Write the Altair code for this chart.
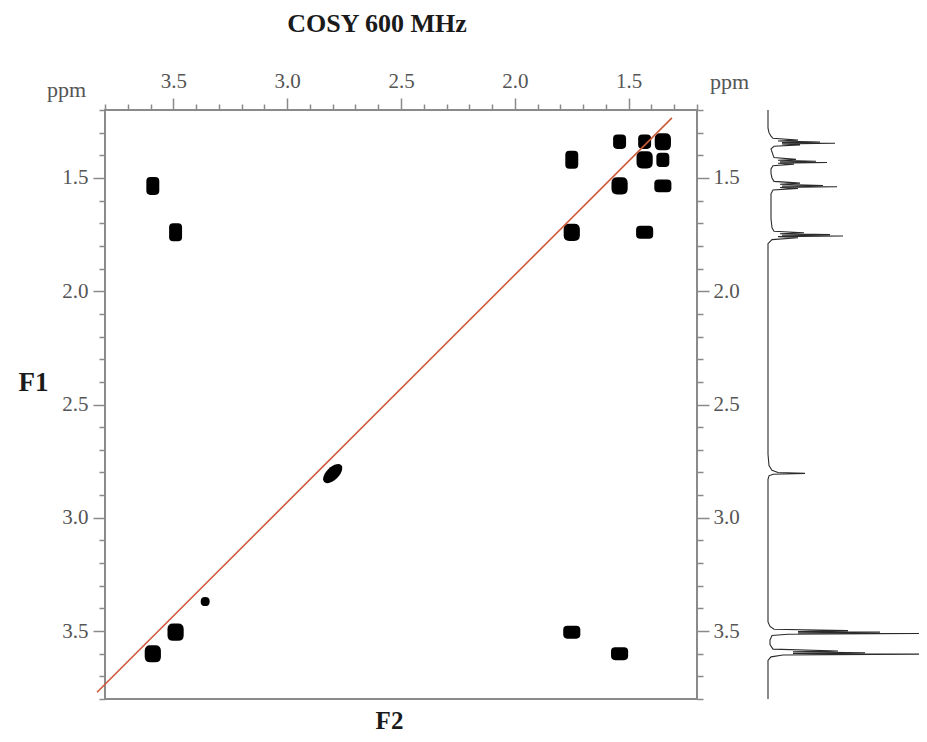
import math
import altair as alt
import pandas as pd

# ---------------- text ----------------
title_text = "COSY 600 MHz"
unit_text = "ppm"
f1_text = "F1"
f2_text = "F2"

# ---------------- axis ticks (ppm) ----------------
tick_values = [3.8, 3.7, 3.6, 3.5, 3.4, 3.3, 3.2, 3.1, 3.0, 2.9, 2.8, 2.7, 2.6,
               2.5, 2.4, 2.3, 2.2, 2.1, 2.0, 1.9, 1.8, 1.7, 1.6, 1.5, 1.4, 1.3, 1.2]
ppm_domain = [1.2, 3.8]

# ---------------- cross peaks (F2, F1) ----------------
peak_f2 = [1.54, 1.43, 1.35, 1.75, 1.43, 1.35, 1.54, 1.35, 1.75, 1.43,
           3.59, 3.49, 3.59, 3.49, 3.36, 2.80, 1.75, 1.54]
peak_f1 = [1.34, 1.34, 1.34, 1.42, 1.42, 1.42, 1.535, 1.535, 1.74, 1.74,
           1.535, 1.74, 3.60, 3.505, 3.37, 2.805, 3.505, 3.60]
peak_kind = ["small", "small", "round", "tall", "round", "small", "round", "wide", "round", "wide",
             "tall", "tall", "round", "round", "dot", "tilt", "wide", "wide"]

# ---------------- diagonal reference line ----------------
diag_f2 = [3.835, 1.31]
diag_f1 = [3.77, 1.235]

# ---------------- 1D projection spectrum (trace vertices) ----------------
spec_ppm = [1.20, 1.28, 1.30, 1.315, 1.325, 1.333, 1.337, 1.341, 1.344, 1.347, 1.350, 1.354,
            1.360, 1.372, 1.385, 1.398, 1.410, 1.418, 1.422, 1.426, 1.429, 1.432, 1.435,
            1.439, 1.446, 1.460, 1.480, 1.500, 1.515, 1.523, 1.528, 1.533, 1.536, 1.539,
            1.542, 1.546, 1.553, 1.570, 1.620, 1.680, 1.720, 1.735, 1.742, 1.746, 1.750,
            1.753, 1.756, 1.759, 1.764, 1.772, 1.790, 2.720, 2.770, 2.790, 2.800, 2.804,
            2.808, 2.815, 2.830, 3.460, 3.480, 3.492, 3.498, 3.502, 3.505, 3.508, 3.511,
            3.514, 3.520, 3.540, 3.560, 3.580, 3.588, 3.592, 3.596, 3.599, 3.602, 3.606,
            3.614, 3.630, 3.800]
spec_int = [0, 0, 1, 3, 5, 30, 10, 52, 14, 67, 14, 32,
            6, 3, 4, 5, 6, 28, 10, 48, 12, 59, 10,
            26, 5, 3, 3, 4, 6, 32, 12, 55, 14, 69,
            12, 30, 5, 3, 3, 3, 4, 6, 36, 12, 62,
            14, 75, 10, 30, 4, 0, 0, 1, 4, 10, 37,
            5, 1, 0, 0, 2, 6, 80, 30, 112, 30, 400,
            20, 4, 2, 2, 5, 70, 25, 97, 25, 400, 15,
            3, 0, 0]

# ---------------- styling helpers ----------------
SERIF = "Liberation Serif"
LABEL_GRAY = "#555555"
FRAME_GRAY = "#8a8a8a"


def rrect(hw, hh, r):
    return (f"M{-hw + r},{-hh}L{hw - r},{-hh}Q{hw},{-hh},{hw},{-hh + r}"
            f"L{hw},{hh - r}Q{hw},{hh},{hw - r},{hh}L{-hw + r},{hh}"
            f"Q{-hw},{hh},{-hw},{hh - r}L{-hw},{-hh + r}Q{-hw},{-hh},{-hw + r},{-hh}Z")


def tilted_ellipse(a, b, n=28):
    pts = []
    c = math.sqrt(0.5)
    for i in range(n):
        t = 2 * math.pi * i / n
        X, Y = a * math.cos(t), b * math.sin(t)
        pts.append((c * (X + Y), c * (-X + Y)))
    return "M" + "L".join(f"{x:.3f},{y:.3f}" for x, y in pts) + "Z"


shape_domain = ["tall", "round", "wide", "small", "dot", "tilt"]
shape_range = [rrect(0.72, 1.0, 0.45), rrect(0.9, 0.95, 0.62), rrect(0.95, 0.72, 0.45),
               rrect(0.72, 0.8, 0.45), rrect(0.5, 0.5, 0.49), tilted_ellipse(1.33, 0.7)]

major_test = "abs(datum.value*2 - round(datum.value*2)) < 0.01"
label_expr = f"{major_test} ? format(datum.value, '.1f') : ''"
tick_size = {"condition": {"test": major_test, "value": 12}, "value": 6}

common_axis = dict(values=tick_values, labelExpr=label_expr, tickSize=tick_size,
                   domain=False, grid=False, labelFont=SERIF, labelFontSize=21,
                   labelColor=LABEL_GRAY, tickColor=FRAME_GRAY, tickWidth=1.5,
                   labelOverlap=False, labelFlush=False, labelBound=False)

xs = alt.Scale(domain=ppm_domain, reverse=True, nice=False, zero=False)
ys = alt.Scale(domain=ppm_domain, reverse=True, nice=False, zero=False)

peaks = pd.DataFrame({"f2": peak_f2, "f1": peak_f1, "kind": peak_kind})
diag = pd.DataFrame({"f2": diag_f2, "f1": diag_f1})
spec = pd.DataFrame({"ppm": spec_ppm, "intensity": spec_int})
title_df = pd.DataFrame({"t": [title_text]})

peak_layer = alt.Chart(peaks).mark_point(filled=True, size=324, opacity=1, color="#000000",
                                         strokeWidth=0, clip=False).encode(
    x=alt.X("f2:Q", scale=xs,
            axis=alt.Axis(orient="top", labelPadding=7, title=unit_text, titleX=-39, titleY=-14,
                          titleAngle=0, titleAlign="center", titleBaseline="alphabetic",
                          titleFont=SERIF, titleFontSize=22, titleFontWeight="normal",
                          titleColor=LABEL_GRAY, **common_axis)),
    y=alt.Y("f1:Q", scale=ys,
            axis=alt.Axis(orient="left", labelPadding=5, title=f1_text, titleX=-72, titleY=280,
                          titleAngle=0, titleAlign="center", titleBaseline="alphabetic",
                          titleFont=SERIF, titleFontSize=27, titleFontWeight="bold",
                          titleColor="#1a1a1a", **common_axis)),
    shape=alt.Shape("kind:N", scale=alt.Scale(domain=shape_domain, range=shape_range), legend=None),
)

diag_layer = alt.Chart(diag).mark_line(color="#cf5a3a", strokeWidth=1.6, clip=False).encode(
    x=alt.X("f2:Q", scale=xs,
            axis=alt.Axis(orient="bottom", labels=False, ticks=False, domain=False, grid=False,
                          title=f2_text, titleX=284, titleY=29, titleAlign="center",
                          titleBaseline="alphabetic", titleFont=SERIF, titleFontSize=25,
                          titleFontWeight="bold", titleColor="#1a1a1a")),
    y=alt.Y("f1:Q", scale=ys,
            axis=alt.Axis(orient="right", labelPadding=4, title=unit_text, titleX=32, titleY=-22,
                          titleAngle=0, titleAlign="center", titleBaseline="alphabetic",
                          titleFont=SERIF, titleFontSize=22, titleFontWeight="normal",
                          titleColor=LABEL_GRAY, **common_axis)),
    order=alt.Order("f2:Q"),
)

spec_layer = alt.Chart(spec).mark_line(color="#2b2b2b", strokeWidth=1.1, clip=False).encode(
    x=alt.X("intensity:Q", scale=alt.Scale(domain=[0, 151], range=[663, 814], clamp=True,
                                           nice=False, zero=False), axis=None),
    y=alt.Y("ppm:Q", scale=ys, axis=None),
    order=alt.Order("ppm:Q"),
)

title_layer = alt.Chart(title_df).mark_text(font=SERIF, fontSize=26, fontWeight="bold",
                                            color="#1a1a1a", align="center",
                                            baseline="alphabetic").encode(
    x=alt.value(272), y=alt.value(-78), text="t:N")

chart = alt.layer(peak_layer, diag_layer, spec_layer, title_layer).resolve_scale(
    x="independent", y="independent"
).properties(
    width=592, height=589,
    autosize=alt.AutoSizeParams(type="none"),
    padding={"left": 97, "top": 102, "right": 222, "bottom": 35},
    background="#ffffff",
).configure_view(stroke=FRAME_GRAY, strokeWidth=2)

chart.save("out.html", embed_options={"renderer": "svg", "actions": False})
